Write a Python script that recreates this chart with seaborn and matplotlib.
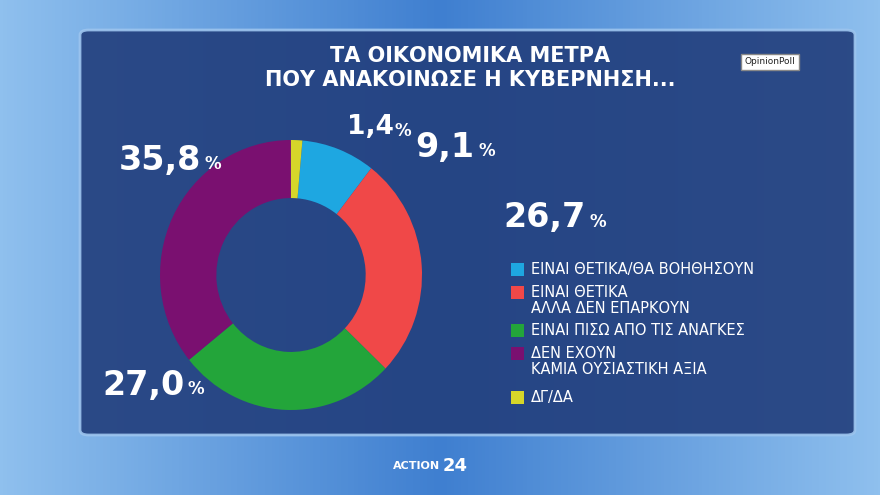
import numpy as np
import matplotlib
matplotlib.use("Agg")
import matplotlib.pyplot as plt
import seaborn as sns
from matplotlib.patches import Rectangle, FancyBboxPatch

sns.set_theme(style="white")
plt.rcParams['font.family'] = ['DejaVu Sans']

categories = ["ΕΙΝΑΙ ΘΕΤΙΚΑ/ΘΑ ΒΟΗΘΗΣΟΥΝ", "ΕΙΝΑΙ ΘΕΤΙΚΑ\nΑΛΛΑ ΔΕΝ ΕΠΑΡΚΟΥΝ",
              "ΕΙΝΑΙ ΠΙΣΩ ΑΠΟ ΤΙΣ ΑΝΑΓΚΕΣ", "ΔΕΝ ΕΧΟΥΝ\nΚΑΜΙΑ ΟΥΣΙΑΣΤΙΚΗ ΑΞΙΑ", "ΔΓ/ΔΑ"]
values = [9.1, 26.7, 27.0, 35.8, 1.4]
colors = ["#1ea7e1", "#f04848", "#23a53a", "#7a1070", "#d6d62a"]
title = "ΤΑ ΟΙΚΟΝΟΜΙΚΑ ΜΕΤΡΑ\nΠΟΥ ΑΝΑΚΟΙΝΩΣΕ Η ΚΥΒΕΡΝΗΣΗ..."

W, H = 880, 495
fig = plt.figure(figsize=(8.8, 4.95), dpi=100)

bg = fig.add_axes([0, 0, 1, 1]); bg.axis("off")
grad = np.linspace(0, 1, 256)[None, :]
bg.imshow(np.vstack([grad]*2), cmap=matplotlib.colors.LinearSegmentedColormap.from_list("b", ["#8fc0ee", "#3f7fd0", "#8fc0ee"]),
          aspect="auto", extent=[0, 1, 0, 1])
bg.set_xlim(0, 1); bg.set_ylim(0, 1)
def fx(x): return x / W
def fy(y): return 1 - y / H
bg.add_patch(FancyBboxPatch((fx(80), fy(435)), fx(775), (435-30)/H, boxstyle="round,pad=0,rounding_size=0.01",
                            facecolor="#23407e", edgecolor="#9cc4ee", lw=2, alpha=0.92))

fig.text(fx(470), fy(68), title, ha="center", va="center", color="white", fontsize=15, fontweight="bold", linespacing=1.3)
fig.text(fx(770), fy(62), "OpinionPoll", ha="center", va="center", fontsize=6.5, color="#222",
         bbox=dict(facecolor="white", edgecolor="#888", boxstyle="square,pad=0.4"))
fig.text(fx(440), fy(466), "ACTION", ha="right", va="center", fontsize=8, color="white", fontweight="bold")
fig.text(fx(443), fy(466), "24", ha="left", va="center", fontsize=13, color="white", fontweight="bold")

# donut
ax = fig.add_axes([fx(160), fy(410), 262/W, 270/H])
ax.pie(values, colors=colors, startangle=85, counterclock=False,
       wedgeprops=dict(width=0.43, edgecolor="none"), radius=1)
ax.set_aspect("auto")
ax.set_xlim(-1, 1); ax.set_ylim(-1, 1)

# value labels
pos = [(445, 147), (545, 218), (143, 385), (160, 160), (370, 127)]
for (x, y), v in zip(pos, values):
    t = f"{v:.1f}".replace(".", ",")
    big = v > 5
    fig.text(fx(x), fy(y), t, ha="center", va="center", color="white", fontsize=24 if big else 19,
             fontweight="bold")
    off = 44 if v > 20 else 33 if big else 24
    fig.text(fx(x + off), fy(y + 4), "%", ha="left", va="center", color="white", fontsize=12, fontweight="bold")

# legend
ly = [270, 293, 331, 354, 398]
for y, c, lab in zip(ly, colors, categories):
    bg.add_patch(Rectangle((fx(511), fy(y + 6)), fx(13), 13/H, facecolor=c, edgecolor="none"))
    fig.text(fx(531), fy(y - 8), lab, ha="left", va="top", color="white", fontsize=10.5, linespacing=1.05)

fig.savefig("out.png", dpi=100)
